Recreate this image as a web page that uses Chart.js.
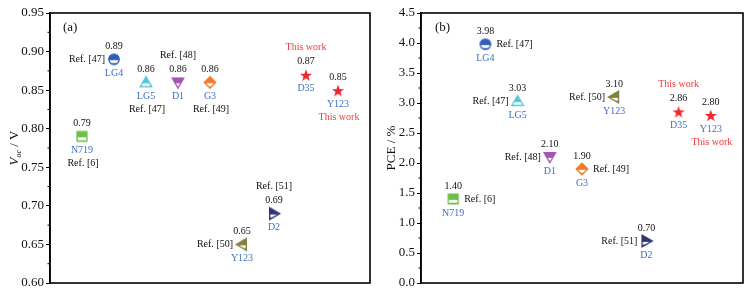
<!DOCTYPE html>
<html>
<head>
<meta charset="utf-8">
<script src="https://cdn.jsdelivr.net/npm/chart.js@4.4.1/dist/chart.umd.min.js"></script>
<style>
  body { margin: 0; background: #fff; }
  #wrap { position: relative; width: 755px; height: 295px; }
  #cVoc { position: absolute; left: 0; top: 0; }
  #cPce { position: absolute; left: 377px; top: 0; }
</style>
</head>
<body>
<div id="wrap">
  <canvas id="cVoc" width="377" height="295"></canvas>
  <canvas id="cPce" width="378" height="295"></canvas>
</div>
<script>
// data
const dyes = ['N719', 'LG4', 'LG5', 'D1', 'G3', 'Y123', 'D2', 'D35', 'Y123'];
const xPos = [1, 2, 3, 4, 5, 6, 7, 8, 9];
const voc = [0.79, 0.89, 0.86, 0.86, 0.86, 0.65, 0.69, 0.87, 0.85];
const pce = [1.40, 3.98, 3.03, 2.10, 1.90, 3.10, 0.70, 2.86, 2.80];
const refs = ['Ref. [6]', 'Ref. [47]', 'Ref. [47]', 'Ref. [48]', 'Ref. [49]', 'Ref. [50]', 'Ref. [51]', 'This work', 'This work'];
const vocTicks = [0.60, 0.65, 0.70, 0.75, 0.80, 0.85, 0.90, 0.95];
const pceTicks = [0.0, 0.5, 1.0, 1.5, 2.0, 2.5, 3.0, 3.5, 4.0, 4.5];

// where the reference text sits around each point
const vocRefPos = ['below', 'left', 'below', 'above', 'below', 'left', 'above', 'above', 'below'];
const pceRefPos = ['right', 'right', 'left', 'left', 'right', 'left', 'left', 'above', 'below'];

const shapes = ['square', 'circle', 'triUp', 'triDown', 'diamond', 'triLeft', 'triRight', 'star', 'star'];
const colors = ['#6cbf45', '#2d5fb5', '#52c6d8', '#a556b3', '#f17d2c', '#82803a', '#2f3473', '#f0262c', '#f0262c'];

const serif = '"Liberation Serif", "DejaVu Serif", serif';
const nameColor = '#3d6fc6';
const workColor = '#f2393c';

function shapePath(ctx, shape, c, r) {
  ctx.beginPath();
  if (shape === 'square') {
    ctx.rect(c - r * 0.85, c - r * 0.85, r * 1.7, r * 1.7);
  } else if (shape === 'circle') {
    ctx.arc(c, c, r * 0.9, 0, Math.PI * 2);
  } else if (shape === 'triUp') {
    ctx.moveTo(c, c - r); ctx.lineTo(c + r, c + r * 0.75); ctx.lineTo(c - r, c + r * 0.75);
  } else if (shape === 'triDown') {
    ctx.moveTo(c, c + r); ctx.lineTo(c + r, c - r * 0.75); ctx.lineTo(c - r, c - r * 0.75);
  } else if (shape === 'triLeft') {
    ctx.moveTo(c - r, c); ctx.lineTo(c + r * 0.75, c - r); ctx.lineTo(c + r * 0.75, c + r);
  } else if (shape === 'triRight') {
    ctx.moveTo(c + r, c); ctx.lineTo(c - r * 0.75, c - r); ctx.lineTo(c - r * 0.75, c + r);
  } else if (shape === 'diamond') {
    ctx.moveTo(c, c - r); ctx.lineTo(c + r, c); ctx.lineTo(c, c + r); ctx.lineTo(c - r, c);
  } else if (shape === 'star') {
    for (let k = 0; k < 10; k++) {
      const a = -Math.PI / 2 + k * Math.PI / 5;
      const rr = k % 2 === 0 ? r * 1.1 : r * 0.45;
      const px = c + rr * Math.cos(a), py = c + 1 + rr * Math.sin(a);
      if (k === 0) ctx.moveTo(px, py); else ctx.lineTo(px, py);
    }
  }
  ctx.closePath();
}

function makeMarker(shape, color) {
  const size = 16, c = 8, r = 5.8;
  const cv = document.createElement('canvas');
  cv.width = size; cv.height = size;
  const ctx = cv.getContext('2d');
  shapePath(ctx, shape, c, r);
  ctx.fillStyle = color;
  ctx.fill();
  if (shape !== 'star') {
    // half-open look: white band in the lower part
    ctx.save();
    shapePath(ctx, shape, c, r);
    ctx.clip();
    ctx.fillStyle = '#fff';
    ctx.fillRect(0, c + r * 0.15, size, r * 0.5);
    ctx.restore();
    shapePath(ctx, shape, c, r);
    ctx.strokeStyle = color;
    ctx.lineWidth = 1.3;
    ctx.stroke();
  }
  return cv;
}
const markers = shapes.map((s, i) => makeMarker(s, colors[i]));

function txt(ctx, s, x, y, color, align) {
  ctx.fillStyle = color;
  ctx.textAlign = align || 'center';
  ctx.textBaseline = 'middle';
  ctx.fillText(s, x, y);
}

function labelPlugin(values, refPos, panel, panelX) {
  return {
    id: 'labels',
    afterDraw(chart) {
      const ctx = chart.ctx;
      const area = chart.chartArea;
      const yScale = chart.scales.y;
      ctx.save();
      // frame
      ctx.strokeStyle = '#000';
      ctx.lineWidth = 1.6;
      ctx.strokeRect(area.left, area.top, area.right - area.left, area.bottom - area.top);
      // minor ticks
      ctx.lineWidth = 1;
      const tks = yScale.ticks.map(t => t.value);
      for (let k = 0; k < tks.length - 1; k++) {
        const yy = yScale.getPixelForValue((tks[k] + tks[k + 1]) / 2);
        ctx.beginPath();
        ctx.moveTo(area.left - 2.5, yy);
        ctx.lineTo(area.left, yy);
        ctx.stroke();
      }
      ctx.font = '13px ' + serif;
      txt(ctx, panel, panelX, area.top + 15, '#111', 'left');
      ctx.font = '10px ' + serif;
      const meta = chart.getDatasetMeta(0);
      meta.data.forEach((pt, i) => {
        const x = pt.x, y = pt.y;
        txt(ctx, values[i].toFixed(2), x, y - 13, '#111');
        txt(ctx, dyes[i], x, y + 14, nameColor);
        const refColor = refs[i] === 'This work' ? workColor : '#111';
        const pos = refPos[i];
        if (pos === 'below') txt(ctx, refs[i], x + 1, y + 27, refColor);
        else if (pos === 'above') txt(ctx, refs[i], x, y - 27, refColor);
        else if (pos === 'left') txt(ctx, refs[i], x - 9, y, refColor, 'right');
        else txt(ctx, refs[i], x + 11, y, refColor, 'left');
      });
      ctx.restore();
    }
  };
}

function titlePlugin(parts) {
  return {
    id: 'ytitle',
    afterDraw(chart) {
      const ctx = chart.ctx;
      const area = chart.chartArea;
      ctx.save();
      ctx.translate(13, (area.top + area.bottom) / 2);
      ctx.rotate(-Math.PI / 2);
      ctx.fillStyle = '#111';
      ctx.textBaseline = 'alphabetic';
      ctx.textAlign = 'left';
      let w = 0;
      parts.forEach(p => { ctx.font = p.font; w += ctx.measureText(p.s).width; });
      let x = -w / 2;
      parts.forEach(p => {
        ctx.font = p.font;
        ctx.fillText(p.s, x, 5 + (p.dy || 0));
        x += ctx.measureText(p.s).width;
      });
      ctx.restore();
    }
  };
}

function makeChart(id, values, ticks, digits, refPos, yWidth, padRight, panel, panelX, titleParts) {
  return new Chart(document.getElementById(id), {
    type: 'scatter',
    data: {
      datasets: [{
        data: xPos.map((x, i) => ({ x: x, y: values[i] })),
        pointStyle: markers,
        pointRadius: 6,
        pointHoverRadius: 6
      }]
    },
    options: {
      responsive: false,
      animation: false,
      events: [],
      layout: { padding: { top: 13, bottom: 12, left: 0, right: padRight } },
      plugins: { legend: { display: false }, tooltip: { enabled: false } },
      scales: {
        x: { display: false, min: 0, max: 10 },
        y: {
          min: ticks[0],
          max: ticks[ticks.length - 1],
          afterFit(scale) { scale.width = yWidth; },
          afterBuildTicks(scale) { scale.ticks = ticks.map(v => ({ value: v })); },
          border: { display: true, color: '#000', width: 1.6 },
          grid: { drawOnChartArea: false, drawTicks: true, tickLength: 4, color: '#000', lineWidth: 1 },
          ticks: {
            padding: 2,
            color: '#111',
            font: { family: serif, size: 13 },
            callback: v => Number(v).toFixed(digits)
          }
        }
      }
    },
    plugins: [labelPlugin(values, refPos, panel, panelX), titlePlugin(titleParts)]
  });
}

makeChart('cVoc', voc, vocTicks, 2, vocRefPos, 50, 6, '(a)', 63, [
  { s: 'V', font: 'italic 13px ' + serif },
  { s: 'oc', font: 'italic 8px ' + serif, dy: 3 },
  { s: ' / V', font: '13px ' + serif }
]);
makeChart('cPce', pce, pceTicks, 1, pceRefPos, 44, 12, '(b)', 58, [
  { s: 'PCE / %', font: '13px ' + serif }
]);
</script>
</body>
</html>
